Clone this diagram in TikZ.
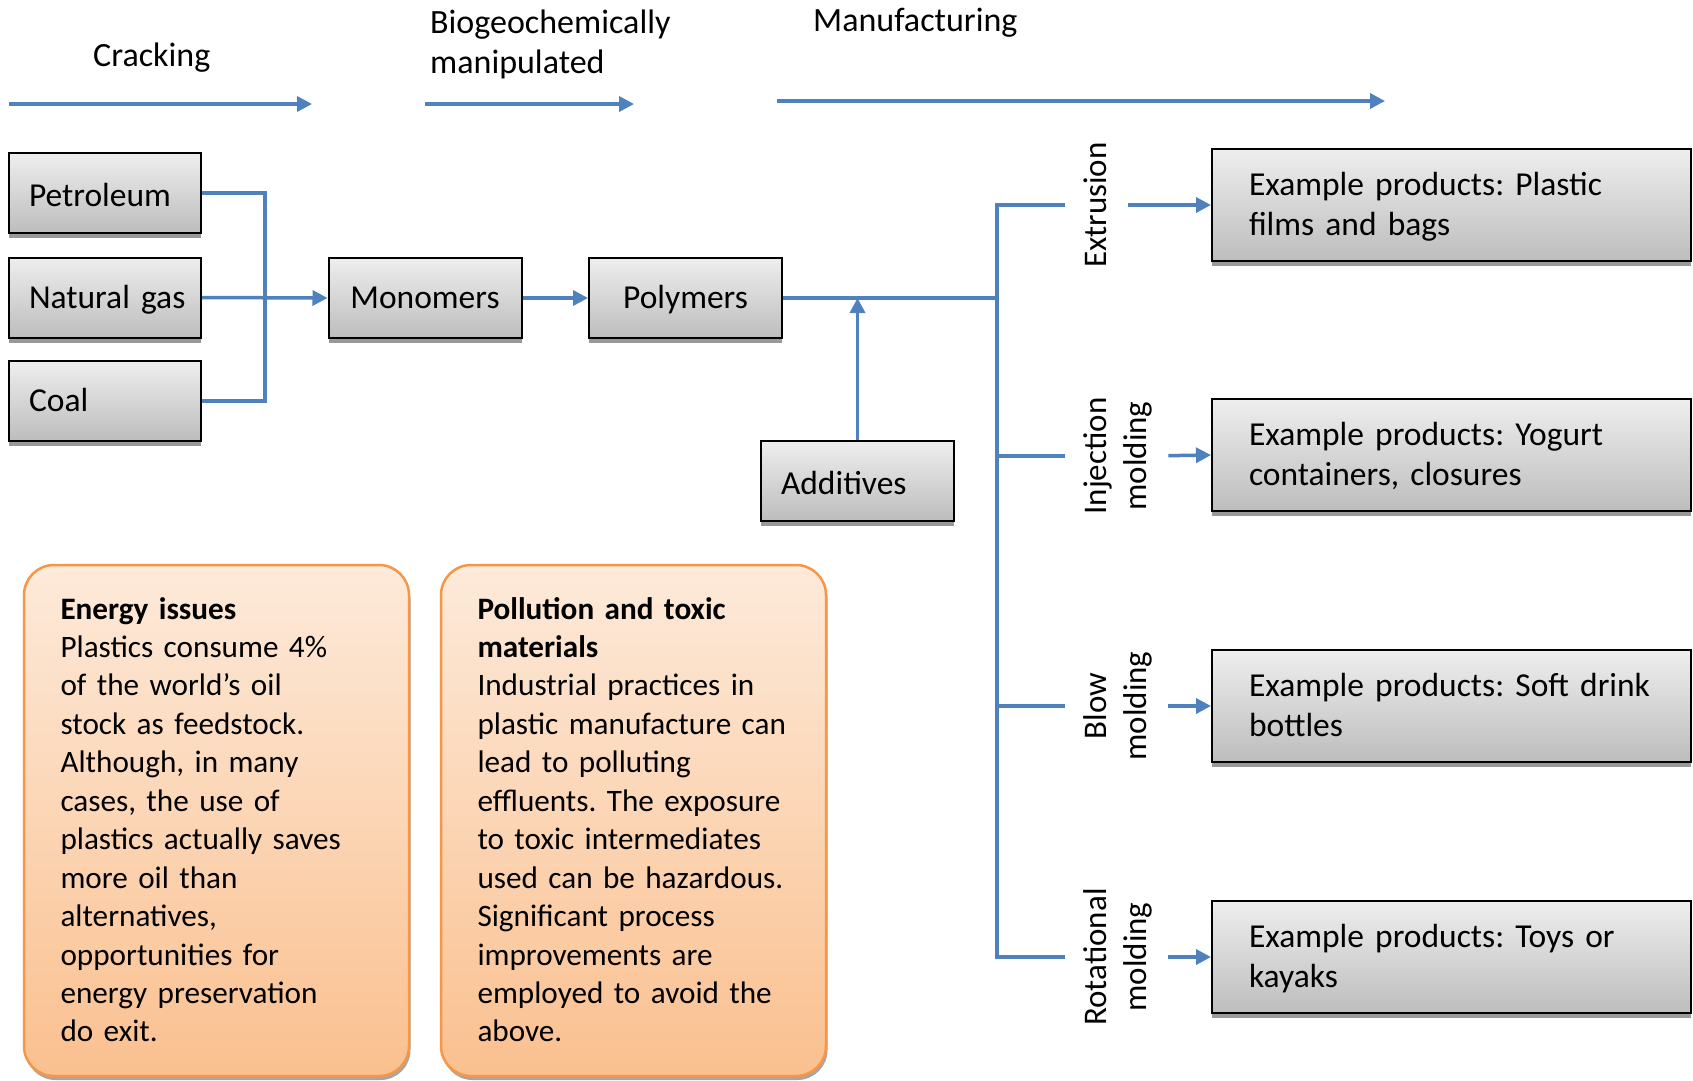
\documentclass[tikz,border=0pt]{standalone}
\usepackage{fontspec}
\setmainfont{Carlito}
\frenchspacing
\usetikzlibrary{arrows.meta,shadows}
\definecolor{flowblue}{RGB}{79,129,189}
\definecolor{greytop}{RGB}{238,238,238}
\definecolor{greybot}{RGB}{189,189,189}
\definecolor{peachtop}{RGB}{253,234,218}
\definecolor{peachbot}{RGB}{250,192,143}
\definecolor{orangeline}{RGB}{247,150,70}
\begin{document}
\begin{tikzpicture}[x=1pt,y=-1pt,
  greybox/.style={draw=black, line width=2pt, top color=greytop, bottom color=greybot,
    general shadow={fill=black!40, shadow xshift=0pt, shadow yshift=-5pt},
    inner xsep=20pt, inner ysep=0pt, text height=21pt, text depth=0pt,
    font=\fontsize{33.5}{40}\selectfont, minimum height=80pt},
  srcbox/.style={greybox, minimum width=192pt, text width=152pt, align=left},
  midbox/.style={greybox, minimum width=193pt, text width=153pt, align=center},
  prodbox/.style={greybox, inner xsep=37pt, text width=405pt, minimum width=479pt,
    minimum height=112pt, text depth=39.5pt, align=left},
  proclbl/.style={rotate=90, anchor=north, text width=200pt, align=center, inner sep=0pt,
    font=\fontsize{33}{40}\selectfont, text height=21pt, text depth=0pt},
  issuebox/.style={draw=orangeline, line width=2.5pt, rounded corners=30pt,
    top color=peachtop, bottom color=peachbot,
    general shadow={fill=black!35, shadow xshift=1.5pt, shadow yshift=-4pt},
    minimum width=385pt, minimum height=511pt, inner xsep=36.5pt, inner ysep=0pt,
    text width=312pt, align=left, font=\fontsize{31.2}{38.45}\selectfont,
    text height=20pt, text depth=423pt},
  head/.style={inner sep=0pt, anchor=base west, font=\fontsize{34}{40}\selectfont},
  flow/.style={draw=flowblue, line width=3.5pt},
  flowarrow/.style={draw=flowblue, line width=3.5pt, -{Triangle[length=15pt,width=15pt]}},
  toparrow/.style={draw=flowblue, line width=3.5pt, -{Triangle[length=15pt,width=15pt]}}
]
\useasboundingbox (0,0) rectangle (1693,1080);
\fill[white] (0,0) rectangle (1693,1080);

% headings
\node[head] (crack) at (93,66) {Cracking};
\node[head, text width=270pt, align=left] (bio) at (430,33) {Biogeochemically\\manipulated};
\node[head] (manu) at (813,31) {Manufacturing};

\coordinate (a1s) at (9,104);   \coordinate (a1e) at (312,104);
\coordinate (a2s) at (425,104); \coordinate (a2e) at (634,104);
\coordinate (a3s) at (777,101); \coordinate (a3e) at (1385,101);
\draw[toparrow] (a1s) -- (a1e);
\draw[toparrow] (a2s) -- (a2e);
\draw[toparrow] (a3s) -- (a3e);

% grey boxes
\node[srcbox, text height=27.5pt] (pet) at (105,193) {Petroleum};
\node[srcbox] (gas) at (105,297.5) {Natural~gas};
\node[srcbox] (coal) at (105,401) {Coal};
\node[midbox] (mono) at (425,298) {Monomers};
\node[midbox] (poly) at (685.5,298) {Polymers};
\node[srcbox, minimum width=193pt, text width=153pt, text height=27.5pt] (add) at (857.5,481) {Additives};

\node[prodbox] (ex1) at (1451.5,205) {\mbox{Example products: Plastic}\\films and bags};
\node[prodbox] (ex2) at (1451.5,455) {\mbox{Example products: Yogurt}\\containers, closures};
\node[prodbox] (ex3) at (1451.5,706) {\mbox{Example products: Soft drink}\\bottles};
\node[prodbox] (ex4) at (1451.5,957) {\mbox{Example products: Toys or}\\kayaks};

% process labels
\node[proclbl] (l1) at (1085,205) {Extrusion};
\node[proclbl, text depth=40pt] (l2) at (1085,456) {Injection\\molding};
\node[proclbl, text depth=40pt] (l3) at (1085,706) {Blow\\molding};
\node[proclbl, text depth=40pt] (l4) at (1085,957) {Rotational\\molding};

% issue boxes
\node[issuebox] (energy) at (216.5,820.5) {{\bfseries Energy issues}\\
\mbox{Plastics consume 4\%}\\
of the world’s oil\\
stock as feedstock.\\
Although, in many\\
cases, the use of\\
\mbox{plastics actually saves}\\
more oil than\\
alternatives,\\
opportunities for\\
\mbox{energy preservation}\\
do exit.};
\node[issuebox] (pollution) at (633.5,820.5) {{\bfseries Pollution and toxic}\\
{\bfseries materials}\\
\mbox{Industrial practices in}\\
\mbox{plastic manufacture can}\\
lead to polluting\\
\mbox{effluents. The exposure}\\
\mbox{to toxic intermediates}\\
\mbox{used can be hazardous.}\\
Significant process\\
improvements are\\
\mbox{employed to avoid the}\\
above.};

% connectors
\coordinate (j) at (265,298);
\draw[flow] (pet.east) -| (j);
\draw[flow] (coal.east) -| (j);
\draw[flowarrow] (gas.east) -- (mono.west);
\draw[flowarrow] (mono.east) -- (poly.west);

\coordinate (b1) at (997,205);
\coordinate (b2) at (997,456);
\coordinate (b3) at (997,706);
\coordinate (b4) at (997,957);
\draw[flow] (poly.east) -- (poly.east -| b1);
\draw[flow, line cap=rect] (b1) -- (b4);
\draw[flow, shorten >=20pt] (b1) -- (l1.north);
\draw[flow, shorten >=20pt] (b2) -- (l2.north);
\draw[flow, shorten >=20pt] (b3) -- (l3.north);
\draw[flow, shorten >=20pt] (b4) -- (l4.north);
\draw[flowarrow, shorten <=22pt] (l1.south) -- (ex1.west);
\draw[flowarrow, shorten <=22pt] (l2.south) -- (ex2.west);
\draw[flowarrow, shorten <=22pt] (l3.south) -- (ex3.west);
\draw[flowarrow, shorten <=22pt] (l4.south) -- (ex4.west);
\draw[flowarrow] (add.north) -- (add.north |- poly.east);
\end{tikzpicture}
\end{document}
